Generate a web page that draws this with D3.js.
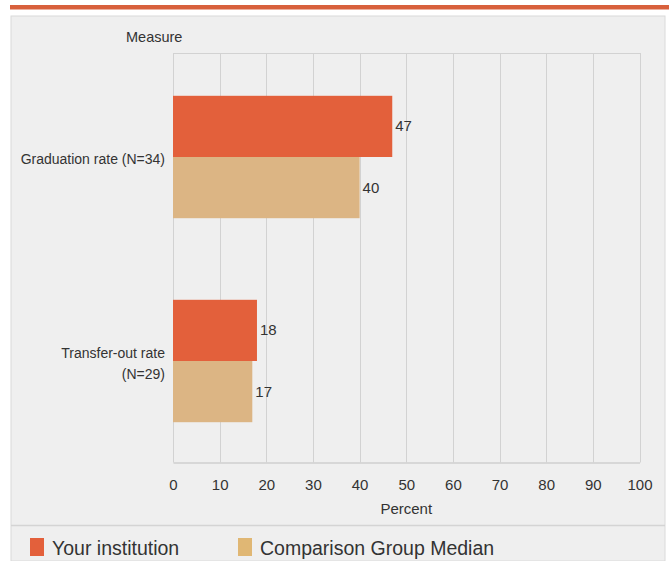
<!DOCTYPE html>
<html><head><meta charset="utf-8">
<script src="https://cdn.jsdelivr.net/npm/d3@7"></script>
<style>
html,body{margin:0;padding:0;background:#fff;}
svg{display:block;font-family:"Liberation Sans Narrow","Arial Narrow","Liberation Sans",Arial,sans-serif;}
</style></head>
<body>
<svg id="c" width="669" height="561"></svg>
<script>
const categories = ["Graduation rate (N=34)", "Transfer-out rate (N=29)"];
const categoryLines = [["Graduation rate (N=34)"], ["Transfer-out rate", "(N=29)"]];
const seriesNames = ["Your institution", "Comparison Group Median"];
const yourInstitution = [47, 18];
const comparisonMedian = [40, 17];
const xTicks = [0, 10, 20, 30, 40, 50, 60, 70, 80, 90, 100];
const colors = ["#e3603b", "#dcb584"];

(function () {
const svg = d3.select("#c");
// top accent line
svg.append("rect").attr("x", 10).attr("y", 5).attr("width", 659).attr("height", 4.5).attr("fill", "#d8603c");
// panel
svg.append("rect").attr("x", 11).attr("y", 16).attr("width", 654).attr("height", 545).attr("fill", "#efefef").attr("stroke", "#dadada").attr("stroke-width", 1);
svg.append("line").attr("x1", 11).attr("x2", 665).attr("y1", 525.5).attr("y2", 525.5).attr("stroke", "#d4d4d4").attr("stroke-width", 1.5);

const pl = 173, pr = 639.5, pt = 53, pb = 462.5;
const x = d3.scaleLinear().domain([0, 100]).range([pl, pr]);
const y0 = d3.scaleBand().domain(categories).range([55, 463]).paddingInner(0.4).paddingOuter(0.2);
const y1 = d3.scaleBand().domain(seriesNames).range([0, y0.bandwidth()]);

// grid
const g = svg.append("g");
g.selectAll("line.grid").data(xTicks).join("line")
  .attr("x1", d => Math.round(x(d)) + 0.5).attr("x2", d => Math.round(x(d)) + 0.5)
  .attr("y1", pt).attr("y2", pb).attr("stroke", "#d2d2d2").attr("stroke-width", 1);
g.append("line").attr("x1", pl).attr("x2", pr + 1).attr("y1", pt + 0.5).attr("y2", pt + 0.5).attr("stroke", "#d2d2d2");

// axis
const axis = svg.append("g").attr("transform", `translate(0,${pb})`)
  .call(d3.axisBottom(x).tickValues(xTicks).tickSize(0).tickPadding(17).tickFormat(d3.format("d")));
axis.select(".domain").attr("stroke", "#cfcfcf").attr("stroke-width", 1.5);
axis.selectAll("text").attr("font-size", 15).attr("fill", "#333").attr("font-family", "inherit");

svg.append("text").attr("x", x(50)).attr("y", 514).attr("text-anchor", "middle").attr("font-size", 15).attr("fill", "#333").text("Percent");
svg.append("text").attr("x", 126).attr("y", 42).attr("font-size", 14.5).attr("fill", "#333").text("Measure");

// bars
const series = [yourInstitution, comparisonMedian];
series.forEach((vals, si) => {
  svg.append("g").selectAll("rect").data(categories).join("rect")
    .attr("x", x(0)).attr("y", d => y0(d) + y1(seriesNames[si]))
    .attr("width", (d, i) => x(vals[i]) - x(0)).attr("height", y1.bandwidth())
    .attr("fill", colors[si]);
  svg.append("g").selectAll("text").data(categories).join("text")
    .attr("x", (d, i) => x(vals[i]) + 3).attr("y", d => y0(d) + y1(seriesNames[si]) + y1.bandwidth() / 2 + 5)
    .attr("font-size", 15).attr("fill", "#333").text((d, i) => vals[i]);
});

// category labels
categories.forEach((c, i) => {
  const lines = categoryLines[i];
  const cy = y0(c) + y0.bandwidth() / 2;
  const lh = 21;
  const t = svg.append("text").attr("text-anchor", "end").attr("font-size", 14).attr("fill", "#333");
  lines.forEach((ln, j) => {
    t.append("tspan").attr("x", 165).attr("y", cy + 7 + (j - (lines.length - 1) / 2) * lh).text(ln);
  });
});

// legend
const lg = svg.append("g");
const lx = [30, 238];
seriesNames.forEach((s, i) => {
  lg.append("rect").attr("x", lx[i]).attr("y", 538).attr("width", 14).attr("height", 18).attr("fill", i === 0 ? colors[0] : "#e0b774");
  lg.append("text").attr("x", lx[i] + 22).attr("y", 555).attr("font-size", 19.5).attr("fill", "#333").text(s);
});
})();
</script>
</body></html>
